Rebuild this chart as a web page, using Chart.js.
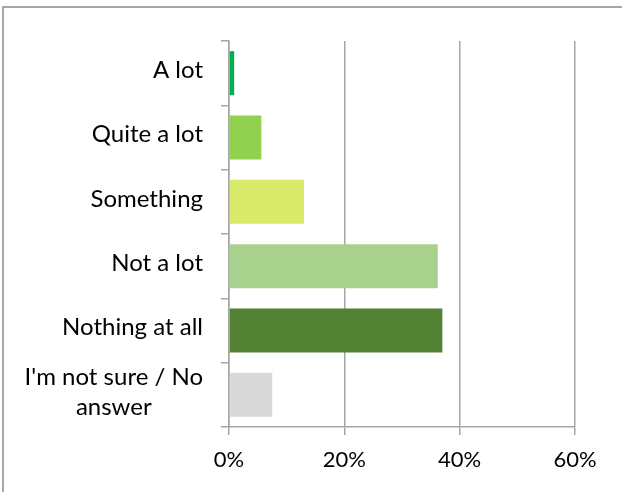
<!DOCTYPE html>
<html>
<head>
<meta charset="utf-8">
<script src="https://cdn.jsdelivr.net/npm/chart.js@4"></script>
<style>
  html, body { margin: 0; padding: 0; background: #fff; }
  #wrap { width: 622px; height: 492px; position: relative; }
</style>
</head>
<body>
<div id="wrap"><canvas id="answersChart"></canvas></div>
<script>
// categorie e valori (percentuali)
var categories = [['A lot'], ['Quite a lot'], ['Something'], ['Not a lot'], ['Nothing at all'], ["I'm not sure / No", 'answer']];
var values = [0.9, 5.6, 13, 36.2, 37, 7.5];
var barColors = ['#00B050', '#92D050', '#D9EA6A', '#A9D18E', '#548235', '#D9D9D9'];
var xTicks = [0, 20, 40, 60];

var FONT = 'Lato, "Open Sans", sans-serif';

// bordo esterno + etichette dell'asse y allineate a destra
var labelsPlugin = {
    id: 'labelsPlugin',
    beforeDraw: function (chart) {
        var c = chart.ctx;
        c.save();
        c.strokeStyle = '#A6A6A6';
        c.lineWidth = 2;
        c.strokeRect(3, 7, 700, 600);
        c.restore();
    },
    afterDraw: function (chart) {
        var c = chart.ctx;
        var scale = chart.scales.y;
        var right = scale.right - 26;
        c.save();
        c.font = '24px ' + FONT;
        c.fillStyle = '#000';
        c.textAlign = 'center';
        c.textBaseline = 'middle';
        var lineH = 30;
        scale.ticks.forEach(function (t, i) {
            var lines = categories[i];
            var w = 0;
            lines.forEach(function (l) { w = Math.max(w, c.measureText(l).width); });
            var cx = right - w / 2;
            var y0 = scale.getPixelForTick(i) - 3 - (lines.length - 1) * lineH / 2;
            lines.forEach(function (l, j) { c.fillText(l, cx, y0 + j * lineH); });
        });
        c.restore();
    }
};

var ctx = document.getElementById('answersChart').getContext('2d');
window.answersChart = new Chart(ctx, {
    type: 'bar',
    data: {
        labels: categories,
        datasets: [{
            data: values,
            backgroundColor: barColors,
            barPercentage: 0.685,
            categoryPercentage: 1
        }]
    },
    options: {
        indexAxis: 'y',
        responsive: true,
        maintainAspectRatio: false,
        animation: false,
        layout: { padding: { top: 41, right: 47, bottom: 0, left: 0 } },
        plugins: {
            legend: { display: false },
            tooltip: { enabled: false }
        },
        scales: {
            x: {
                min: 0,
                max: 60,
                afterBuildTicks: function (s) { s.ticks = xTicks.map(function (v) { return { value: v }; }); },
                afterFit: function (s) { s.height = 65; },
                ticks: {
                    callback: function (v) { return v + '%'; },
                    font: { family: FONT, size: 22 },
                    color: '#000',
                    padding: 12
                },
                grid: { color: '#A6A6A6', lineWidth: 1.5, tickLength: 8 },
                border: { color: '#A6A6A6', width: 1.5 }
            },
            y: {
                afterFit: function (s) { s.width = 229; },
                ticks: {
                    color: 'transparent',
                    font: { family: FONT, size: 20 }
                },
                grid: { drawOnChartArea: false, color: '#A6A6A6', lineWidth: 1.5, tickLength: 8, offset: true },
                border: { color: '#A6A6A6', width: 1.5 }
            }
        }
    },
    plugins: [labelsPlugin]
});
</script>
</body>
</html>
